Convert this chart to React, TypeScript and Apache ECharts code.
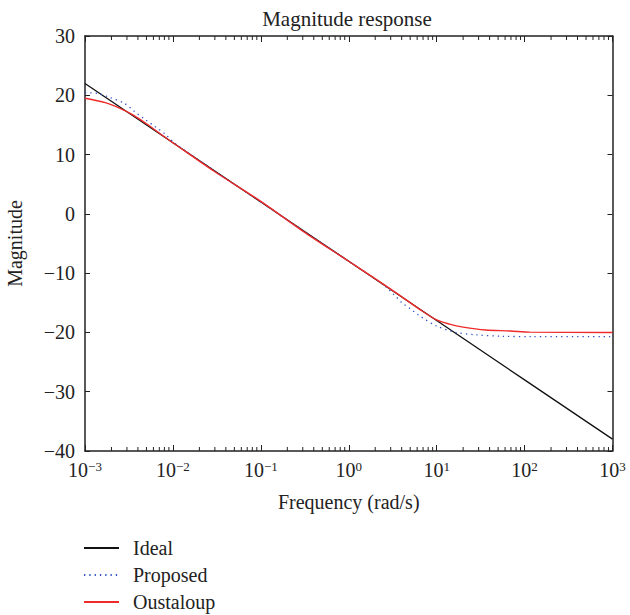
import React, { useEffect, useRef } from "react";
import * as echarts from "echarts";

const FONT = "'Liberation Serif', 'Times New Roman', serif";

// Ideal (black)
const idealFreq = [0.001, 0.01, 0.1, 1, 10, 100, 1000];
const idealMag = [22, 12, 2, -8, -18, -28, -38];

// Proposed (blue dotted)
const proposedFreq = [0.001, 0.0014, 0.0019, 0.0028, 0.0037, 0.0048, 0.0063, 0.0081, 0.0105, 0.03, 0.1, 0.3, 1, 2.45, 3.3, 4.1, 4.9, 6.4, 9.9, 16.6, 28, 56, 120, 1000];
const proposedMag = [20.45, 20.3, 19.65, 18.65, 17.2, 15.95, 14.7, 13.5, 11.9, 7.2, 2, -2.8, -8, -11.9, -13.7, -15.1, -15.9, -17.2, -18.9, -20.0, -20.4, -20.65, -20.7, -20.7];

// Oustaloup (red)
const oustaloupFreq = [0.001, 0.0017, 0.0025, 0.0035, 0.005, 0.008, 0.01, 0.03, 0.1, 0.3, 1, 3, 6.4, 10, 14, 20, 36, 68, 115, 1000];
const oustaloupMag = [19.5, 18.75, 17.8, 16.7, 15.2, 13.0, 12, 7.1, 2.1, -2.9, -8, -12.7, -16.1, -17.9, -18.6, -19.1, -19.6, -19.75, -19.95, -20];

// axis ticks
const decades = [0.001, 0.01, 0.1, 1, 10, 100];
const minorMultipliers = [2, 3, 4, 5, 6, 7, 8, 9];
const yTicksMin = -40;
const yTicksMax = 30;

const minorTicks: number[] = [];
decades.forEach((d) => minorMultipliers.forEach((m) => minorTicks.push(+(d * m).toPrecision(3))));

const zip = (a: number[], b: number[]) => a.map((v, i) => [v, b[i]]);
const minus = (s: string) => s.replace("-", "\u2212");

export default function App() {
  const ref = useRef<HTMLDivElement>(null);
  useEffect(() => {
    document.body.style.margin = "0";
    const chart = echarts.init(ref.current!, null, { renderer: "svg" });
    const axisLine = { show: true, onZero: false, lineStyle: { color: "#222", width: 1.5 } };
    const xCommon = {
      type: "log",
      logBase: 10,
      min: 0.001,
      max: 1000,
      axisLine,
      splitLine: { show: false },
      axisTick: { show: true, inside: true, length: 6, lineStyle: { color: "#222", width: 1 } },
    };
    const yCommon = {
      type: "value",
      min: yTicksMin,
      max: yTicksMax,
      interval: 10,
      axisLine,
      splitLine: { show: false },
      axisTick: { show: true, inside: true, length: 5, lineStyle: { color: "#222", width: 1 } },
    };
    chart.setOption({
      animation: false,
      title: {
        text: "Magnitude response",
        left: 342,
        top: 3,
        textAlign: "center",
        textStyle: { fontFamily: FONT, fontSize: 21, fontWeight: "normal", color: "#222" },
      },
      grid: { left: 85, right: 17.5, top: 36, bottom: 164, containLabel: false, outerBoundsMode: "none" },
      legend: {
        orient: "vertical",
        left: 83,
        top: 538,
        padding: 0,
        itemWidth: 35,
        itemHeight: 14,
        itemGap: 7,
        itemStyle: { opacity: 0, borderWidth: 0 },
        data: ["Ideal", "Proposed", "Oustaloup"],
        textStyle: { fontFamily: FONT, fontSize: 20, color: "#222", lineHeight: 20, padding: [0, 0, 0, 9] },
      },
      xAxis: [
        {
          ...xCommon,
          position: "bottom",
          name: "Frequency (rad/s)",
          nameLocation: "middle",
          nameGap: 41,
          nameTextStyle: { fontFamily: FONT, fontSize: 20, color: "#222" },
          axisLabel: {
            margin: 9,
            formatter: (v: number) => `{b|10}{s|${minus(String(Math.round(Math.log10(v))))}}`,
            rich: {
              b: { fontFamily: FONT, fontSize: 20, color: "#222", lineHeight: 20 },
              s: { fontFamily: FONT, fontSize: 13, color: "#222", lineHeight: 14, verticalAlign: "top" },
            },
          },
        },
        { ...xCommon, position: "top", axisLabel: { show: false } },
      ],
      yAxis: [
        {
          ...yCommon,
          position: "left",
          name: "Magnitude",
          nameLocation: "middle",
          nameGap: 60,
          nameTextStyle: { fontFamily: FONT, fontSize: 20, color: "#222" },
          axisLabel: {
            margin: 10,
            fontFamily: FONT,
            fontSize: 20,
            color: "#222",
            formatter: (v: number) => minus(String(v)),
          },
        },
        { ...yCommon, position: "right", axisLabel: { show: false } },
      ],
      series: [
        {
          name: "Ideal",
          type: "line",
          data: zip(idealFreq, idealMag),
          symbol: "none",
          lineStyle: { color: "#111", width: 1.3 },
          itemStyle: { color: "#111" },
          z: 3,
        },
        {
          name: "Proposed",
          type: "line",
          data: zip(proposedFreq, proposedMag),
          symbol: "none",
          smooth: 0.3,
          lineStyle: { color: "#3050c8", width: 1.3, type: [1.3, 4] },
          itemStyle: { color: "#3050c8" },
          z: 4,
        },
        {
          name: "Oustaloup",
          type: "line",
          data: zip(oustaloupFreq, oustaloupMag),
          symbol: "none",
          smooth: 0.3,
          lineStyle: { color: "#ee2a2a", width: 1.4 },
          itemStyle: { color: "#ee2a2a" },
          z: 5,
        },
        {
          type: "custom",
          silent: true,
          clip: false,
          data: minorTicks.map((v) => [v, 0]),
          renderItem: (params: any, api: any) => {
            const x = api.value(0);
            const b = api.coord([x, yTicksMin]);
            const t = api.coord([x, yTicksMax]);
            return {
              type: "group",
              children: [
                { type: "line", shape: { x1: b[0], y1: b[1], x2: b[0], y2: b[1] - 4 }, style: { stroke: "#222", lineWidth: 1 } },
                { type: "line", shape: { x1: t[0], y1: t[1], x2: t[0], y2: t[1] + 4 }, style: { stroke: "#222", lineWidth: 1 } },
              ],
            };
          },
          z: 2,
        },
      ],
    });
    return () => chart.dispose();
  }, []);
  return <div ref={ref} style={{ width: 630, height: 615 }} />;
}
